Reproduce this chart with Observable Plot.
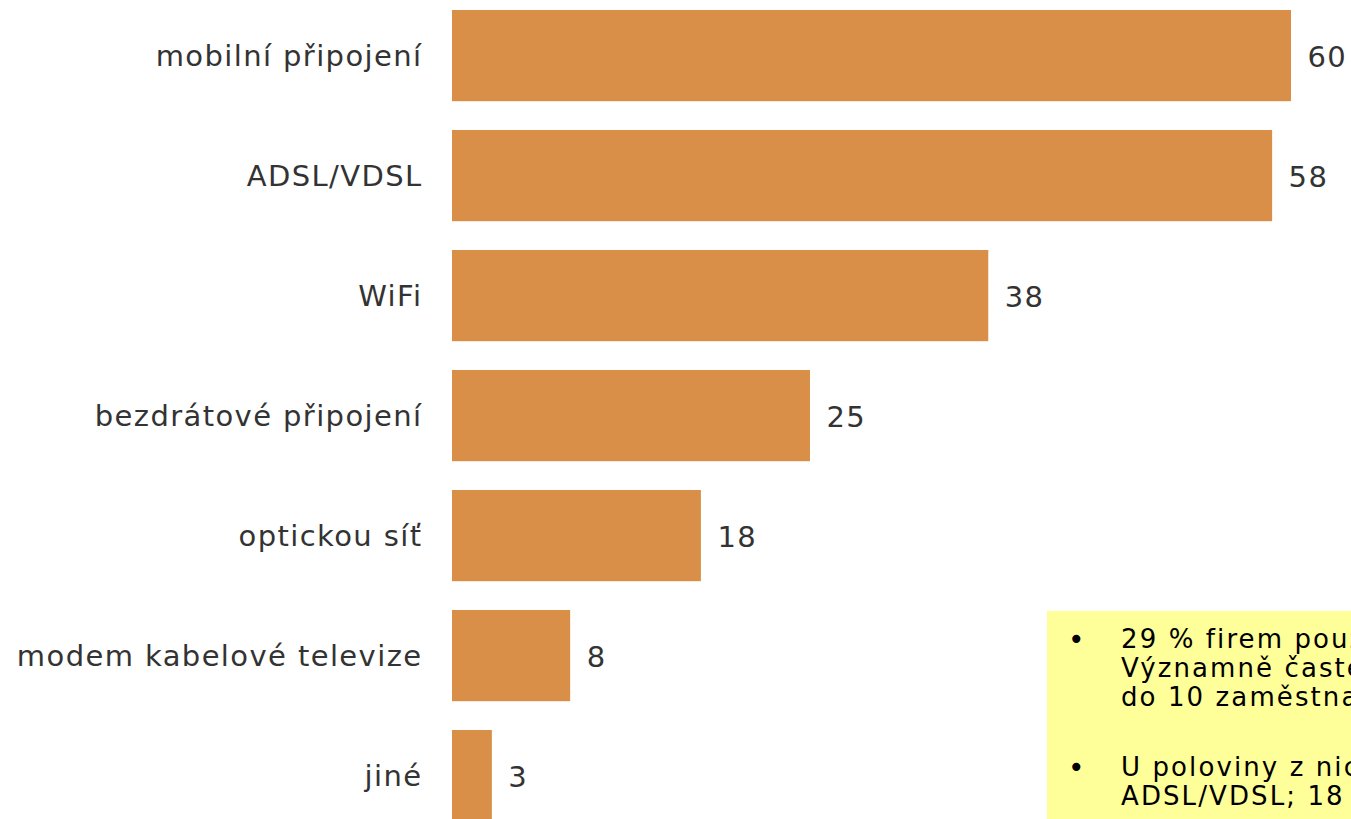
<!DOCTYPE html>
<html>
<head>
<meta charset="utf-8">
<script src="https://cdn.jsdelivr.net/npm/d3@7"></script>
<script src="https://cdn.jsdelivr.net/npm/@observablehq/plot@0.6"></script>
<style>
  html, body { margin: 0; padding: 0; overflow: hidden; background: #fff; }
  #wrap { position: relative; width: 1351px; height: 819px; overflow: hidden; }
  #note {
    position: absolute; left: 1047px; top: 611px; width: 420px; height: 260px;
    background: #FFFF99; font-family: "DejaVu Sans", sans-serif; font-size: 26px;
    letter-spacing: 2.1px; color: #000; white-space: nowrap;
  }
  #note .p { position: absolute; left: 0; }
  #note .b { position: absolute; left: 21px; top: 0; line-height: 29px; font-size: 28px; letter-spacing: 0; }
  #note .t { position: absolute; left: 74px; top: 0; line-height: 29px; }
</style>
</head>
<body>
<div id="wrap">
  <div id="chart"></div>
  <div id="note">
    <div class="p" style="top:14px"><span class="b">•</span><div class="t">29 % firem používá<br>Významně častěji<br>do 10 zaměstnanců</div></div>
    <div class="p" style="top:142px"><span class="b">•</span><div class="t">U poloviny z nich<br>ADSL/VDSL; 18 %</div></div>
  </div>
</div>
<script>
// categories, displayed percentages, and bar lengths
const categories = ["mobilní připojení", "ADSL/VDSL", "WiFi", "bezdrátové připojení", "optickou síť", "modem kabelové televize", "jiné"];
const shares = [60, 58, 38, 25, 18, 8, 3];
const barLengths = [60, 58.65, 38.35, 25.6, 17.8, 8.45, 2.85];
const data = categories.map((c, i) => ({category: c, value: barLengths[i], label: String(shares[i])}));

const chart = Plot.plot({
  width: 1351,
  height: 819,
  marginLeft: 452,
  marginRight: 0,
  marginTop: 0,
  marginBottom: 0,
  style: {fontFamily: "DejaVu Sans, sans-serif", fontSize: "29px", color: "#333", letterSpacing: "1.4px", background: "transparent"},
  x: {domain: [0, 60], range: [452, 1291], axis: null},
  y: {domain: categories, range: [-18.8, 850], padding: 0.24, round: false, label: null, axis: null},
  marks: [
    Plot.barX(data, {x: "value", y: "category", fill: "#D98F48", insetTop: 0, insetBottom: 0}),
    Plot.text(data, {x: "value", y: "category", text: "label", dx: 16, dy: 2, textAnchor: "start", fontSize: 29, fill: "#333"}),
    Plot.axisY({tickSize: 0, tickPadding: 30, dy: 1, fontSize: 29, label: null, color: "#333"})
  ]
});
document.getElementById("chart").appendChild(chart);
</script>
</body>
</html>
